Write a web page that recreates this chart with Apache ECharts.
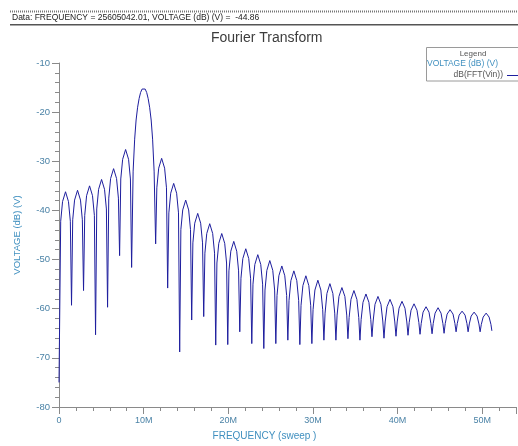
<!DOCTYPE html>
<html>
<head>
<meta charset="utf-8">
<script src="https://cdn.jsdelivr.net/npm/echarts@6/dist/echarts.min.js"></script>
<style>
html,body{margin:0;padding:0;background:#fff;}
#c{width:518px;height:446px;}
</style>
</head>
<body>
<div id="c"></div>
<script>
// Sweep frequency in MHz
var freqMHz = [
0, 0.20, 0.42, 0.77, 1.12, 1.34,
1.48, 1.62, 1.84, 2.19, 2.54, 2.76,
2.90, 3.04, 3.26, 3.61, 3.96, 4.18,
4.32, 4.46, 4.68, 5.03, 5.38, 5.60,
5.74, 5.88, 6.10, 6.45, 6.80, 7.02,
7.16, 7.30, 7.52, 7.87, 8.22, 8.44,
8.58, 8.76, 8.94, 9.11, 9.29, 9.47, 9.64, 9.82, 10.00, 10.18, 10.36, 10.53, 10.71, 10.89, 11.06, 11.24,
11.42, 11.56, 11.78, 12.13, 12.48, 12.70,
12.84, 12.98, 13.20, 13.55, 13.90, 14.12,
14.26, 14.40, 14.62, 14.97, 15.32, 15.54,
15.68, 15.82, 16.04, 16.39, 16.74, 16.96,
17.10, 17.24, 17.46, 17.81, 18.16, 18.38,
18.52, 18.66, 18.88, 19.23, 19.58, 19.80,
19.94, 20.08, 20.30, 20.65, 21.00, 21.22,
21.36, 21.50, 21.72, 22.07, 22.42, 22.64,
22.78, 22.92, 23.14, 23.49, 23.84, 24.06,
24.20, 24.34, 24.56, 24.91, 25.26, 25.48,
25.62, 25.76, 25.98, 26.33, 26.68, 26.90,
27.04, 27.18, 27.40, 27.75, 28.10, 28.32,
28.46, 28.60, 28.82, 29.17, 29.52, 29.74,
29.88, 30.02, 30.24, 30.59, 30.94, 31.16,
31.30, 31.44, 31.66, 32.01, 32.36, 32.58,
32.72, 32.86, 33.08, 33.43, 33.78, 34.00,
34.14, 34.28, 34.50, 34.85, 35.20, 35.42,
35.56, 35.70, 35.92, 36.27, 36.62, 36.84,
36.98, 37.12, 37.34, 37.69, 38.04, 38.26,
38.40, 38.54, 38.76, 39.11, 39.46, 39.68,
39.82, 39.96, 40.18, 40.53, 40.88, 41.10,
41.24, 41.38, 41.60, 41.95, 42.30, 42.52,
42.66, 42.80, 43.02, 43.37, 43.72, 43.94,
44.08, 44.22, 44.44, 44.79, 45.14, 45.36,
45.50, 45.64, 45.86, 46.21, 46.56, 46.78,
46.92, 47.06, 47.28, 47.63, 47.98, 48.20,
48.34, 48.48, 48.70, 49.05, 49.40, 49.62,
49.76, 49.90, 50.12, 50.47, 50.82, 51.04, 51.15
];
// dB(FFT(Vin))
var voltageDb = [
-75.0, -42.2, -38.2, -36.2, -38.2, -42.2,
-59.3, -41.9, -37.9, -35.9, -37.9, -41.9,
-56.3, -41.0, -37.0, -35.0, -37.0, -41.0,
-65.3, -39.7, -35.7, -33.7, -35.7, -39.7,
-59.7, -37.5, -33.5, -31.5, -33.5, -37.5,
-49.2, -33.6, -29.6, -27.6, -29.6, -33.6,
-51.6, -32.0, -25.5, -21.6, -19.0, -17.2, -16.0, -15.3, -15.1, -15.3, -16.0, -17.2, -19.0, -21.6, -25.5, -32.0,
-46.8, -35.4, -31.4, -29.4, -31.4, -35.4,
-55.8, -40.5, -36.5, -34.5, -36.5, -40.5,
-68.8, -43.9, -39.9, -37.9, -39.9, -43.9,
-62.3, -46.6, -42.6, -40.6, -42.6, -46.6,
-61.6, -48.7, -44.7, -42.7, -44.7, -48.7,
-67.4, -50.7, -46.7, -44.7, -46.7, -50.7,
-67.3, -52.3, -48.3, -46.3, -48.3, -52.3,
-64.7, -53.8, -49.8, -47.8, -49.8, -53.8,
-67.1, -55.0, -51.0, -49.0, -51.0, -55.0,
-68.1, -56.2, -52.2, -50.2, -52.2, -56.2,
-67.1, -57.3, -53.3, -51.3, -53.3, -57.3,
-66.4, -58.3, -54.3, -52.3, -54.3, -58.3,
-67.3, -59.3, -55.3, -53.3, -55.3, -59.3,
-67.1, -60.2, -56.2, -54.2, -56.2, -60.2,
-66.4, -60.9, -56.9, -54.9, -56.9, -60.9,
-66.4, -61.3, -57.5, -55.7, -57.5, -61.3,
-66.1, -61.8, -58.1, -56.3, -58.1, -61.8,
-66.4, -62.2, -58.7, -57.0, -58.7, -62.2,
-65.7, -62.5, -59.1, -57.5, -59.1, -62.5,
-66.0, -62.7, -59.6, -58.1, -59.6, -62.7,
-65.6, -62.7, -59.9, -58.5, -59.9, -62.7,
-65.4, -62.8, -60.3, -59.0, -60.3, -62.8,
-65.2, -63.0, -60.7, -59.6, -60.7, -63.0,
-65.1, -63.0, -60.9, -59.8, -60.9, -63.0,
-65.0, -63.0, -61.1, -60.2, -61.1, -63.0,
-64.7, -63.0, -61.3, -60.5, -61.3, -63.0,
-64.7, -63.1, -61.5, -60.7, -61.5, -63.1,
-64.7, -63.2, -61.7, -60.9, -61.7, -63.2, -64.5
];
var headerText = 'Data: FREQUENCY = 25605042.01, VOLTAGE (dB) (V) =  -44.86';
var titleText = 'Fourier Transform';
var seriesName = 'dB(FFT(Vin))';
var legendTitle = 'Legend';
var legendAxisName = 'VOLTAGE (dB) (V)';

var n = Math.min(freqMHz.length, voltageDb.length);
var pts = [];
for (var i = 0; i < n; i++) pts.push([freqMHz[i], voltageDb[i]]);

var FONT = '"Liberation Sans", Arial, sans-serif';
var labelColor = '#4a82a6';
var nameColor = '#3f8fbf';
var axisGray = '#8a8a8a';
var lineColor = '#1e1e9e';

var chart = echarts.init(document.getElementById('c'), null, {renderer: 'canvas'});
chart.setOption({
  animation: false,
  backgroundColor: '#ffffff',
  grid: {left: 59, right: 2, top: 63, bottom: 35, containLabel: false},
  xAxis: {
    type: 'value', min: 0, max: 54, interval: 10,
    name: 'FREQUENCY (sweep )', nameLocation: 'middle', nameGap: 24,
    nameTextStyle: {color: nameColor, fontSize: 10, fontFamily: FONT, padding: [0, 46, 0, 0]},
    axisLine: {show: true, onZero: false, lineStyle: {color: axisGray, width: 1}},
    axisTick: {show: true, length: 7, lineStyle: {color: axisGray}},
    minorTick: {show: true, splitNumber: 5, length: 4, lineStyle: {color: axisGray}},
    splitLine: {show: false},
    axisLabel: {color: labelColor, fontSize: 9, fontFamily: FONT, margin: 9,
      showMaxLabel: false,
      formatter: function (v) { return v === 0 ? '0' : v + 'M'; }}
  },
  yAxis: {
    type: 'value', min: -80, max: -10, interval: 10,
    name: 'VOLTAGE (dB) (V)', nameLocation: 'middle', nameGap: 37,
    nameTextStyle: {color: nameColor, fontSize: 9.5, fontFamily: FONT},
    axisLine: {show: true, onZero: false, lineStyle: {color: axisGray, width: 1}},
    axisTick: {show: true, length: 7, lineStyle: {color: axisGray}},
    minorTick: {show: true, splitNumber: 5, length: 4, lineStyle: {color: axisGray}},
    splitLine: {show: false},
    axisLabel: {color: labelColor, fontSize: 9.5, fontFamily: FONT, margin: 9}
  },
  series: [{
    name: seriesName, type: 'line', data: pts,
    showSymbol: false, symbol: 'none', smooth: false,
    lineStyle: {color: lineColor, width: 1},
    itemStyle: {color: lineColor},
    silent: true
  }],
  graphic: [
    {type: 'line', shape: {x1: 10, y1: 11.5, x2: 518, y2: 11.5}, style: {stroke: '#777', lineWidth: 2, lineDash: [1, 1]}},
    {type: 'line', shape: {x1: 10, y1: 24.8, x2: 518, y2: 24.8}, style: {stroke: '#555', lineWidth: 1.5}},
    {type: 'text', left: 12, top: 13.5, style: {text: headerText, fill: '#222', font: '8.5px ' + FONT}},
    {type: 'text', left: 211, top: 31.5, style: {text: titleText, fill: '#3c3c3c', font: '14px ' + FONT}},
    {type: 'rect', shape: {x: 426.5, y: 47.5, width: 110, height: 33.5}, style: {fill: '#fff', stroke: '#9a9a9a', lineWidth: 1}},
    {type: 'text', x: 473, y: 53.5, style: {text: legendTitle, fill: '#555', font: '8px ' + FONT, textAlign: 'center', textVerticalAlign: 'middle'}},
    {type: 'text', x: 427, y: 64, style: {text: legendAxisName, fill: '#3f8fbf', font: '8.5px ' + FONT, textAlign: 'left', textVerticalAlign: 'middle'}},
    {type: 'text', x: 503, y: 75, style: {text: seriesName, fill: '#555', font: '8.5px ' + FONT, textAlign: 'right', textVerticalAlign: 'middle'}},
    {type: 'line', shape: {x1: 507, y1: 75.5, x2: 518, y2: 75.5}, style: {stroke: lineColor, lineWidth: 1}}
  ]
});
</script>
</body>
</html>
